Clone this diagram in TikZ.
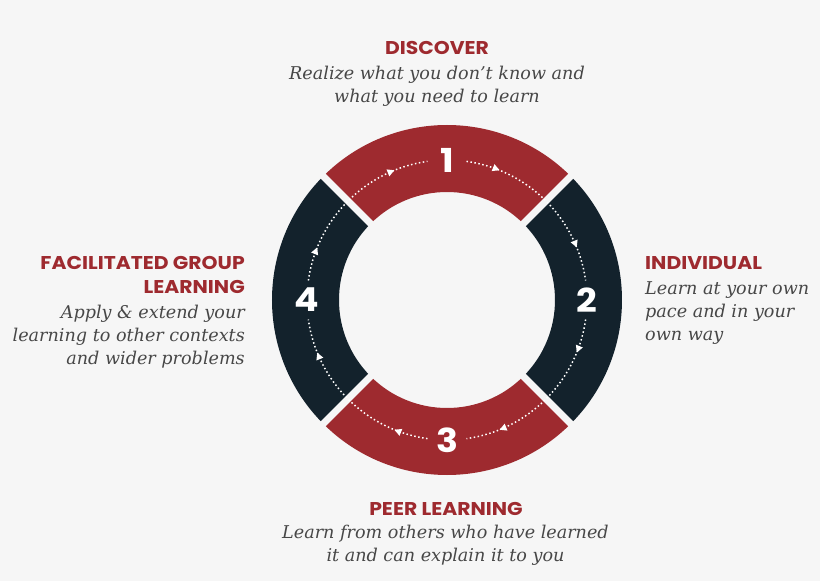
\documentclass[tikz,border=0pt]{standalone}
\usepackage{fontspec}
\setmainfont{DejaVu Serif}
\setsansfont{Poppins}[FakeStretch=1.1]
\usepackage{tikz}
\usetikzlibrary{arrows.meta, decorations.markings}
\definecolor{ringred}{HTML}{9E2A2F}
\definecolor{ringdark}{HTML}{13222C}
\definecolor{paper}{HTML}{F6F6F6}
\definecolor{textgray}{HTML}{474747}
\tikzstyle{title} = [font=\sffamily\bfseries\fontsize{18.5}{24}\selectfont, text=ringred, inner sep=0pt]
\tikzstyle{body} = [font=\itshape\fontsize{17.6}{23}\selectfont, text=textgray, inner sep=0pt]
\tikzstyle{num} = [font=\sffamily\bfseries\fontsize{33}{33}\selectfont, text=white, inner sep=0pt]
\tikzstyle{gap} = [draw=paper, line width=7pt]
\tikzstyle{flow} = [white, line width=1.5pt, dash pattern=on 1.5pt off 2.5pt, postaction={decorate}, decoration={markings, mark=at position 0.19 with {\arrow{Triangle[length=7pt,width=7pt]}}, mark=at position 0.81 with {\arrow{Triangle[length=7pt,width=7pt]}}}]
\begin{document}
\begin{tikzpicture}[x=1pt,y=1pt]

\fill[paper] (-447,-281) rectangle (373,300);
\useasboundingbox (-447,-281) rectangle (373,300);

\fill[ringred] (45:108) arc[start angle=45, end angle=135, radius=108] -- (135:175) arc[start angle=135, end angle=45, radius=175] -- cycle;
\fill[ringdark] (-45:108) arc[start angle=-45, end angle=45, radius=108] -- (45:175) arc[start angle=45, end angle=-45, radius=175] -- cycle;
\fill[ringred] (225:108) arc[start angle=225, end angle=315, radius=108] -- (315:175) arc[start angle=315, end angle=225, radius=175] -- cycle;
\fill[ringdark] (135:108) arc[start angle=135, end angle=225, radius=108] -- (225:175) arc[start angle=225, end angle=135, radius=175] -- cycle;

\draw [gap] (45:190) -- (225:190);
\draw [gap] (135:190) -- (315:190);

\node(one)[num] at (90:140) {1};
\node(two)[num] at (0:140) {2};
\node(three)[num] at (-90:140) {3};
\node(four)[num] at (180:140) {4};

\coordinate (from1) at (82:140);
\coordinate (from2) at (-8:140);
\coordinate (from3) at (-98:140);
\coordinate (from4) at (172:140);

\draw [flow] (from1) arc[start angle=82, end angle=8, radius=140];
\draw [flow] (from2) arc[start angle=-8, end angle=-82, radius=140];
\draw [flow] (from3) arc[start angle=-98, end angle=-172, radius=140];
\draw [flow] (from4) arc[start angle=172, end angle=98, radius=140];

\node(discover)[title, anchor=base] at (-10,245) {DISCOVER};
\node(discovertext)[body, align=center, anchor=north] at (-10,233.9) {Realize what you don't know and\\what you need to learn};

\node(individual)[title, anchor=base west] at (198,30.7) {INDIVIDUAL};
\node(individualtext)[body, align=left, anchor=north west] at (198,18.5) {Learn at your own\\pace and in your\\own way};

\node(peer)[title, anchor=base] at (-1,-215) {PEER LEARNING};
\node(peertext)[body, align=center, anchor=north] at (-1.5,-224.9) {Learn from others who have learned\\it and can explain it to you};

\node(group)[title, align=right, anchor=north east] at (-202,43.6) {FACILITATED GROUP\\LEARNING};
\node(grouptext)[body, align=right, anchor=north east] at (-202,-4.9) {Apply \& extend your\\learning to other contexts\\and wider problems};
\end{tikzpicture}
\end{document}
